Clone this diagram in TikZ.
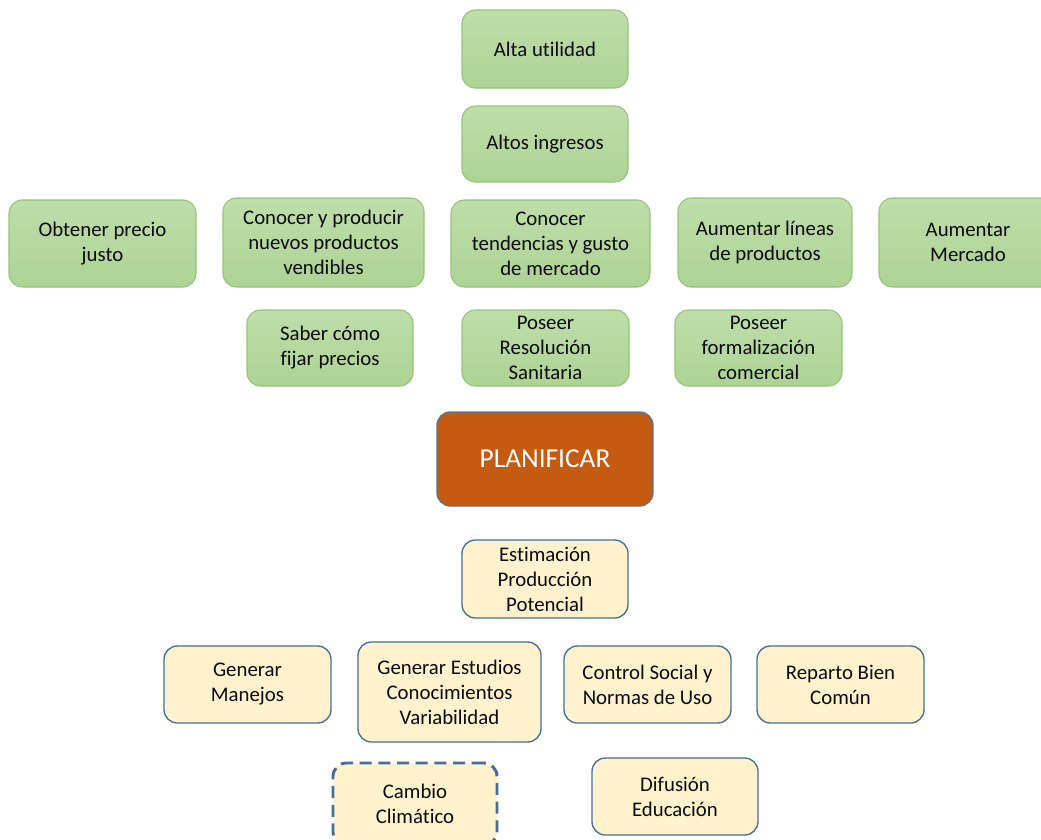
\documentclass[tikz,border=0pt]{standalone}
\usepackage{fontspec}
\setmainfont{Carlito}[RawFeature={-liga;-clig}]
\definecolor{gfill}{RGB}{173,211,148}
\definecolor{gfilltop}{RGB}{190,222,170}
\definecolor{gdraw}{RGB}{150,195,120}
\definecolor{yfill}{RGB}{255,242,204}
\definecolor{ydraw}{RGB}{70,110,150}
\definecolor{ofill}{RGB}{197,90,17}
\definecolor{odraw}{RGB}{90,115,150}
\definecolor{gtext}{RGB}{10,10,10}
\tikzset{
  box/.style={rounded corners=10pt, align=center, text=gtext,
    font=\fontsize{15.6}{18.75}\selectfont, inner sep=0pt},
  gbox/.style={box, draw=gdraw, line width=0.8pt, top color=gfilltop, bottom color=gfill},
  ybox/.style={box, draw=ydraw, line width=1pt, fill=yfill},
  dbox/.style={box, draw=ydraw, line width=2.2pt, fill=yfill, dash pattern=on 9pt off 5pt},
  obox/.style={box, draw=odraw, line width=1pt, fill=ofill, text=white,
    font=\fontsize{20.5}{22}\selectfont}
}
\newcommand{\bx}[7]{% style, name, x1, y1, x2, y2, text
  \node[#1, minimum width={(#5-#3)*0.75pt}, minimum height={(#6-#4)*0.75pt}]
    (#2) at ({(#3+#5)/2}, {(#4+#6)/2}) {#7};}
\begin{document}
\begin{tikzpicture}[x=0.75pt, y=-0.75pt]
\useasboundingbox (0,0) rectangle (1041,839);
\clip (0,0) rectangle (1041,839);
\bx{gbox}{alta}{462}{10}{628}{88}{Alta utilidad}
\bx{gbox}{ingresos}{462}{106}{628}{182}{Altos ingresos}
\bx{gbox}{precio}{9}{200}{196}{287}{Obtener precio\\justo}
\bx{gbox}{producir}{223}{198}{424}{287}{Conocer y producir\\nuevos productos\\vendibles}
\bx{gbox}{tendencias}{451}{200}{650}{287}{Conocer\\tendencias y gusto\\de mercado}
\bx{gbox}{lineas}{678}{198}{852}{287}{Aumentar líneas\\de productos}
\bx{gbox}{mercado}{879}{198}{1057}{287}{Aumentar\\Mercado}
\bx{gbox}{fijar}{247}{310}{413}{386}{Saber cómo\\fijar precios}
\bx{gbox}{sanitaria}{462}{310}{629}{386}{Poseer\\Resolución\\Sanitaria}
\bx{gbox}{formal}{675}{310}{842}{386}{Poseer\\formalización\\comercial}
\bx{obox}{plan}{437}{412}{653}{506}{PLANIFICAR}
\bx{ybox}{estim}{462}{540}{628}{618}{Estimación\\Producción\\Potencial}
\bx{ybox}{manejos}{164}{646}{331}{723}{Generar\\Manejos}
\bx{ybox}{estudios}{358}{642}{541}{742}{Generar Estudios\\Conocimientos\\Variabilidad}
\bx{ybox}{control}{564}{646}{731}{723}{Control Social y\\Normas de Uso}
\bx{ybox}{reparto}{757}{646}{924}{723}{Reparto Bien\\Común}
\bx{dbox}{clima}{333}{763}{497}{845}{Cambio\\Climático}
\bx{ybox}{difusion}{592}{758}{758}{835}{Difusión\\Educación}
\end{tikzpicture}
\end{document}
